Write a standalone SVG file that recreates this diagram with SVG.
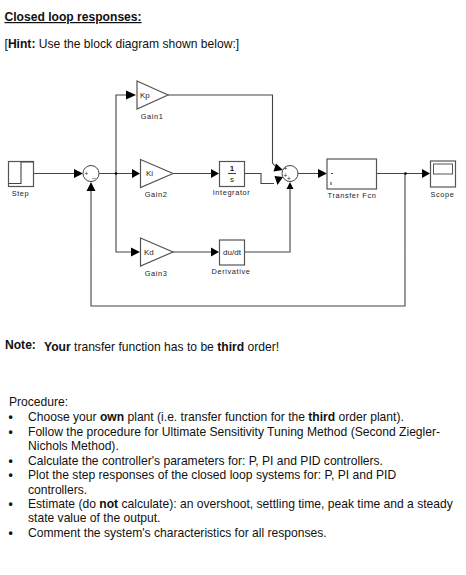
<svg xmlns="http://www.w3.org/2000/svg" width="466" height="575" viewBox="0 0 466 575">
<style>
text{font-family:"Liberation Sans",Arial,sans-serif;fill:#111}
.t{font-size:12.1px}
.l{font-size:7.4px;fill:#222;letter-spacing:.6px;text-anchor:middle}
.in{font-size:8px;fill:#222}
.s{font-size:6.5px;fill:#222}
.b{font-weight:bold}
.box{fill:#fff;stroke:#555;stroke-width:1.200}
.c{fill:none;stroke:#444;stroke-width:1.100}
.a{fill:#000;stroke:none}
</style>
<rect width="466" height="575" fill="#fff"/>
<g id="header">
<text x="4.500" y="21" class="t b" text-decoration="underline">Closed loop responses:</text>
<text x="4.500" y="48" class="t">[<tspan class="b">Hint:</tspan> Use the block diagram shown below:]</text>
</g>
<g id="connectors">
<path class="c" d="M33.500 173.500H76M99 173.500H132M116 173.500V95H126M168 95H272.500V163L275 166M116 173.500V252H131M173 252H211M244.500 252H290V186M173 173.500H211M245 173.500H261V183.500H274M298 173.500H318M376.500 173.500H422M405 173.500V306H91V190"/>
<circle cx="116" cy="173.500" r="1.300" class="a"/>
<circle cx="405.500" cy="173.500" r="1.300" class="a"/>
<path class="a" d="M126 90.500L136 95L126 99.500ZM74 169L83 173.500L74 178ZM132 169L140 173.500L132 178ZM211 169L219 173.500L211 178ZM131 247.500L140 252L131 256.500ZM211 247.500L219 252L211 256.500ZM318 169L327 173.500L318 178ZM422 169L430 173.500L422 178ZM91 182L86.500 191H95.500ZM290 182L286.500 189H293.500ZM283 170L276 163.500L273.500 171.500ZM283 177L274.500 176L277.500 185Z"/>
</g>
<g id="step">
<rect class="box" x="8.500" y="161.500" width="25" height="25"/>
<path class="c" d="M8.500 183.500H21V162H33.500"/>
<text x="20.500" y="196" class="l">Step</text>
</g>
<g id="sum1">
<circle cx="91" cy="173.500" r="8" fill="#fff" stroke="#444"/>
<text x="84.500" y="176" class="s">+</text>
<text x="92" y="177" class="s">_</text>
</g>
<g id="gain1">
<path class="box" d="M137 81L168 95L137 109Z"/>
<text x="140" y="97.500" class="in">Kp</text>
<text x="152" y="119" class="l">Gain1</text>
</g>
<g id="gain2">
<path class="box" d="M140.500 159.500L173 173.500L140.500 187.500Z"/>
<text x="146" y="176" class="in">Ki</text>
<text x="156" y="197" class="l">Gain2</text>
</g>
<g id="gain3">
<path class="box" d="M140.500 238L173 252L140.500 266Z"/>
<text x="144" y="254.500" class="in">Kd</text>
<text x="156" y="276" class="l">Gain3</text>
</g>
<g id="integrator">
<rect class="box" x="219.500" y="161.500" width="25" height="25"/>
<text x="232" y="170.500" class="in b" text-anchor="middle">1</text>
<path class="c" d="M228 173.500H236"/>
<text x="232" y="182" class="in" text-anchor="middle">s</text>
<text x="231.500" y="195" class="l">Integrator</text>
</g>
<g id="derivative">
<rect class="box" x="219.500" y="240" width="25" height="25"/>
<text x="232" y="254.500" class="in" text-anchor="middle">du/dt</text>
<text x="231" y="274" class="l">Derivative</text>
</g>
<g id="sum2">
<circle cx="290" cy="173.500" r="8" fill="#fff" stroke="#444"/>
<text x="283.500" y="171" class="s">+</text>
<text x="283.500" y="177.500" class="s">+</text>
<text x="287" y="181" class="s">+</text>
</g>
<g id="transfer-fcn">
<rect class="box" x="327" y="159" width="49.500" height="30"/>
<path class="c" d="M331 173.500h2M331 182v3"/>
<text x="352" y="197.500" class="l">Transfer Fcn</text>
</g>
<g id="scope">
<rect class="box" x="430.500" y="161" width="25" height="26"/>
<rect x="433.500" y="164" width="19" height="10" fill="#fff" stroke="#555"/>
<text x="442.500" y="196.500" class="l">Scope</text>
</g>
<g id="note">
<text x="5" y="348.500" class="t b">Note:</text>
<text x="44" y="351" class="t"><tspan class="b">Your</tspan> transfer function has to be <tspan class="b">third</tspan> order!</text>
</g>
<g id="procedure">
<text x="9" y="406" class="t">Procedure:</text>
<text x="8.500" y="421" class="t b">•</text><text x="28" y="421" class="t">Choose your <tspan class="b">own</tspan> plant (i.e. transfer function for the <tspan class="b">third</tspan> order plant).</text>
<text x="8.500" y="435.500" class="t b">•</text><text x="28" y="435.500" class="t">Follow the procedure for Ultimate Sensitivity Tuning Method (Second Ziegler-</text>
<text x="28" y="450" class="t">Nichols Method).</text>
<text x="8.500" y="464.500" class="t b">•</text><text x="28" y="464.500" class="t">Calculate the controller's parameters for: P, PI and PID controllers.</text>
<text x="8.500" y="479" class="t b">•</text><text x="28" y="479" class="t">Plot the step responses of the closed loop systems for: P, PI and PID</text>
<text x="28" y="493.500" class="t">controllers.</text>
<text x="8.500" y="508" class="t b">•</text><text x="28" y="508" class="t">Estimate (do <tspan class="b">not</tspan> calculate): an overshoot, settling time, peak time and a steady</text>
<text x="28" y="522" class="t">state value of the output.</text>
<text x="8.500" y="537" class="t b">•</text><text x="28" y="537" class="t">Comment the system's characteristics for all responses.</text>
</g>
</svg>
